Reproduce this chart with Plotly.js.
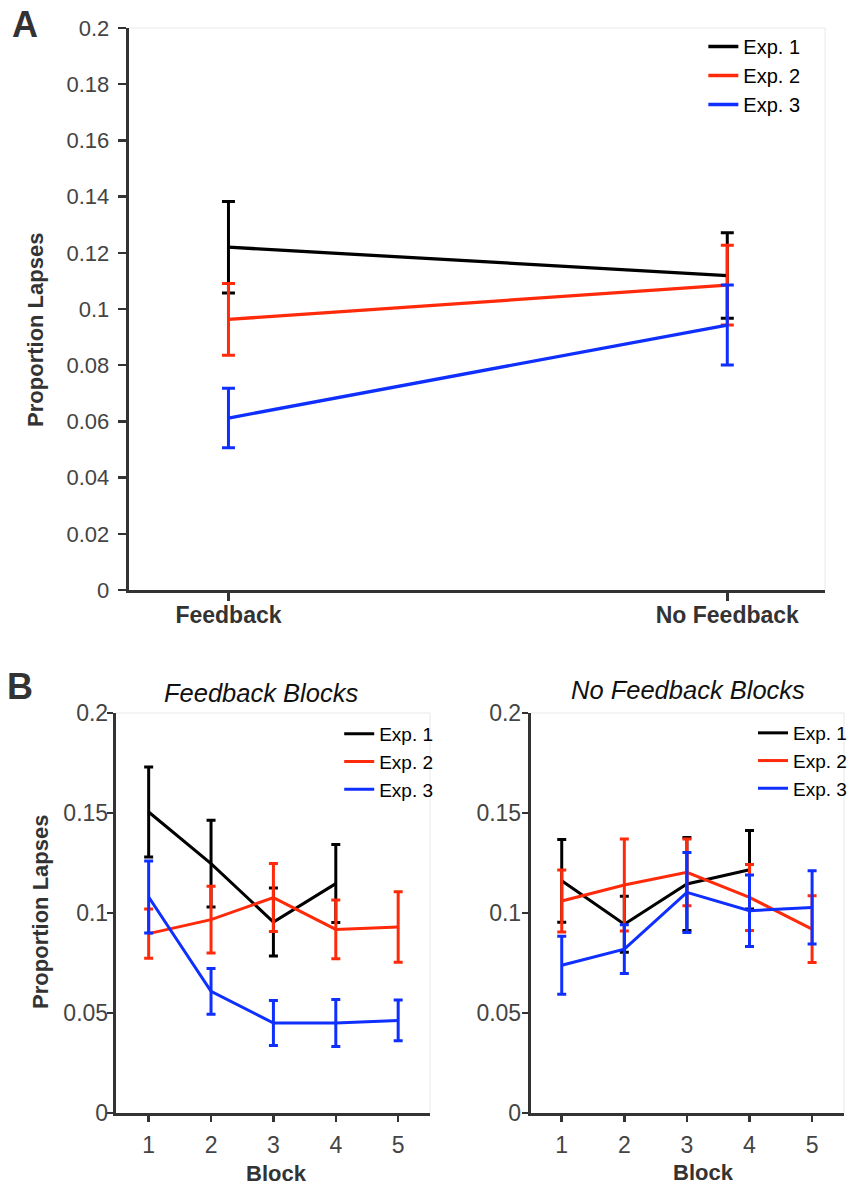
<!DOCTYPE html>
<html>
<head>
<meta charset="utf-8">
<script src="https://cdn.plot.ly/plotly-3.0.1.min.js"></script>
<style>
  html, body { margin: 0; padding: 0; background: #fff; }
  #chart { width: 852px; height: 1190px; }
</style>
</head>
<body>
<div id="chart"></div>
<script>
// ---------- Data ----------
const seriesNames = ['Exp. 1', 'Exp. 2', 'Exp. 3'];

// Panel A
const conditions = ['Feedback', 'No Feedback'];
const exp1A = [0.1220, 0.1119];
const exp1AErr = [0.0163, 0.0152];
const exp2A = [0.0963, 0.1085];
const exp2AErr = [0.0128, 0.0142];
const exp3A = [0.0612, 0.0943];
const exp3AErr = [0.0106, 0.0142];

// Panel B
const blocks = [1, 2, 3, 4, 5];
const blocksExp1 = [1, 2, 3, 4];
// Feedback blocks
const fbExp1 = [0.1505, 0.1247, 0.0955, 0.1147];
const fbExp1Err = [0.0225, 0.0217, 0.0170, 0.0195];
const fbExp2 = [0.0897, 0.0967, 0.1077, 0.0918, 0.0930];
const fbExp2Err = [0.0123, 0.0167, 0.0170, 0.0147, 0.0176];
const fbExp3 = [0.1080, 0.0608, 0.0450, 0.0450, 0.0463];
const fbExp3Err = [0.0180, 0.0114, 0.0112, 0.0117, 0.0102];
// No feedback blocks
const nfExp1 = [0.1161, 0.0944, 0.1145, 0.1216];
const nfExp1Err = [0.0207, 0.0140, 0.0232, 0.0196];
const nfExp2 = [0.1060, 0.1140, 0.1203, 0.1078, 0.0919];
const nfExp2Err = [0.0155, 0.0230, 0.0167, 0.0165, 0.0167];
const nfExp3 = [0.0739, 0.0819, 0.1103, 0.1011, 0.1028];
const nfExp3Err = [0.0145, 0.0122, 0.0200, 0.0179, 0.0183];

const yTicksA = [0, 0.02, 0.04, 0.06, 0.08, 0.1, 0.12, 0.14, 0.16, 0.18, 0.2];
const yTicksB = [0, 0.05, 0.1, 0.15, 0.2];

// ---------- Styling ----------
const colors = ['#000000', '#ff2a0a', '#0f2fff'];
const FONT = 'Liberation Sans, Arial, Helvetica, sans-serif';
const W = 852, H = 1190;
const px = v => v / W;
const py = v => 1 - v / H;

function trace(x, y, err, i, xa, ya, leg, capW, lw) {
  return {
    type: 'scatter', mode: 'lines',
    x: x, y: y,
    name: seriesNames[i],
    xaxis: xa, yaxis: ya,
    legend: leg,
    line: { color: colors[i], width: lw },
    error_y: { type: 'data', array: err, visible: true, color: colors[i], thickness: 3, width: capW },
    hoverinfo: 'skip'
  };
}

const data = [
  trace(conditions, exp1A, exp1AErr, 0, 'x', 'y', 'legend', 6.5, 3.3),
  trace(conditions, exp2A, exp2AErr, 1, 'x', 'y', 'legend', 6.5, 3.3),
  trace(conditions, exp3A, exp3AErr, 2, 'x', 'y', 'legend', 6.5, 3.3),
  trace(blocksExp1, fbExp1, fbExp1Err, 0, 'x2', 'y2', 'legend2', 4.5, 3),
  trace(blocks, fbExp2, fbExp2Err, 1, 'x2', 'y2', 'legend2', 4.5, 3),
  trace(blocks, fbExp3, fbExp3Err, 2, 'x2', 'y2', 'legend2', 4.5, 3),
  trace(blocksExp1, nfExp1, nfExp1Err, 0, 'x3', 'y3', 'legend3', 4.5, 3),
  trace(blocks, nfExp2, nfExp2Err, 1, 'x3', 'y3', 'legend3', 4.5, 3),
  trace(blocks, nfExp3, nfExp3Err, 2, 'x3', 'y3', 'legend3', 4.5, 3)
];

const axisBase = {
  showline: true, linecolor: '#333', linewidth: 3,
  ticks: 'outside', tickcolor: '#333', tickwidth: 2.5,
  showgrid: false, zeroline: false, fixedrange: true
};

function frame(xa, ya) {
  return [
    { type: 'line', xref: xa + ' domain', yref: ya + ' domain', x0: 0, x1: 1, y0: 1, y1: 1, line: { color: '#e8e8e8', width: 1 }, layer: 'below' },
    { type: 'line', xref: xa + ' domain', yref: ya + ' domain', x0: 1, x1: 1, y0: 0, y1: 1, line: { color: '#e8e8e8', width: 1 }, layer: 'below' }
  ];
}

function ann(text, x, y, size, opts) {
  return Object.assign({
    text: text, xref: 'paper', yref: 'paper', x: px(x), y: py(y),
    xanchor: 'center', yanchor: 'middle', showarrow: false,
    font: { family: FONT, size: size, color: '#222' }
  }, opts || {});
}

function legendAt(x, y, size) {
  return {
    x: px(x), y: py(y), xanchor: 'left', yanchor: 'top',
    bgcolor: 'rgba(0,0,0,0)', borderwidth: 0,
    font: { family: FONT, size: size, color: '#000' },
    itemclick: false, itemdoubleclick: false
  };
}

const layout = {
  width: W, height: H,
  margin: { l: 0, r: 0, t: 0, b: 0 },
  paper_bgcolor: '#fff', plot_bgcolor: '#fff',
  font: { family: FONT },
  xaxis: Object.assign({}, axisBase, {
    domain: [px(129), px(827)], anchor: 'y', type: 'category',
    range: [-0.2, 1.196], ticklen: 8, ticklabelstandoff: -6,
    tickfont: { family: FONT, size: 23, color: '#333', weight: 'bold' }
  }),
  yaxis: Object.assign({}, axisBase, {
    domain: [py(590), py(28)], anchor: 'x',
    range: [0, 0.2], tickvals: yTicksA, ticklen: 8, ticklabelstandoff: 4,
    tickfont: { family: FONT, size: 22, color: '#444' }
  }),
  xaxis2: Object.assign({}, axisBase, {
    domain: [px(116), px(431)], anchor: 'y2',
    range: [0.472, 5.51], tickvals: blocks, ticklen: 6, ticklabelstandoff: 3,
    tickfont: { family: FONT, size: 23, color: '#444' }
  }),
  yaxis2: Object.assign({}, axisBase, {
    domain: [py(1113), py(713)], anchor: 'x2',
    range: [0, 0.2], tickvals: yTicksB, ticklen: 6, ticklabelstandoff: -6,
    tickfont: { family: FONT, size: 23, color: '#444' }
  }),
  xaxis3: Object.assign({}, axisBase, {
    domain: [px(532), px(846)], anchor: 'y3',
    range: [0.505, 5.51], tickvals: blocks, ticklen: 6, ticklabelstandoff: 3,
    tickfont: { family: FONT, size: 23, color: '#444' }
  }),
  yaxis3: Object.assign({}, axisBase, {
    domain: [py(1113), py(713)], anchor: 'x3',
    range: [0, 0.2], tickvals: yTicksB, ticklen: 6, ticklabelstandoff: -4,
    tickfont: { family: FONT, size: 23, color: '#444' }
  }),
  legend: legendAt(705, 27, 20),
  legend2: legendAt(340, 715, 19),
  legend3: legendAt(755, 714, 19),
  shapes: [].concat(frame('x', 'y'), frame('x2', 'y2'), frame('x3', 'y3')),
  annotations: [
    ann('A', 25, 24, 36, { font: { family: FONT, size: 36, color: '#333', weight: 'bold' } }),
    ann('B', 20, 687, 36, { font: { family: FONT, size: 36, color: '#333', weight: 'bold' } }),
    ann('Proportion Lapses', 35, 330, 22, { textangle: -90, font: { family: FONT, size: 22, color: '#333', weight: 'bold' } }),
    ann('Proportion Lapses', 40, 912, 22, { textangle: -90, font: { family: FONT, size: 22, color: '#333', weight: 'bold' } }),
    ann('Feedback Blocks', 262, 693, 25.5, { font: { family: FONT, size: 25.5, color: '#111', style: 'italic' } }),
    ann('No Feedback Blocks', 690, 690, 25.5, { font: { family: FONT, size: 25.5, color: '#111', style: 'italic' } }),
    ann('Block', 277, 1173, 22, { font: { family: FONT, size: 22, color: '#333', weight: 'bold' } }),
    ann('Block', 705, 1172, 22, { font: { family: FONT, size: 22, color: '#333', weight: 'bold' } })
  ]
};

Plotly.newPlot('chart', data, layout, { displayModeBar: false, staticPlot: true });
</script>
</body>
</html>
